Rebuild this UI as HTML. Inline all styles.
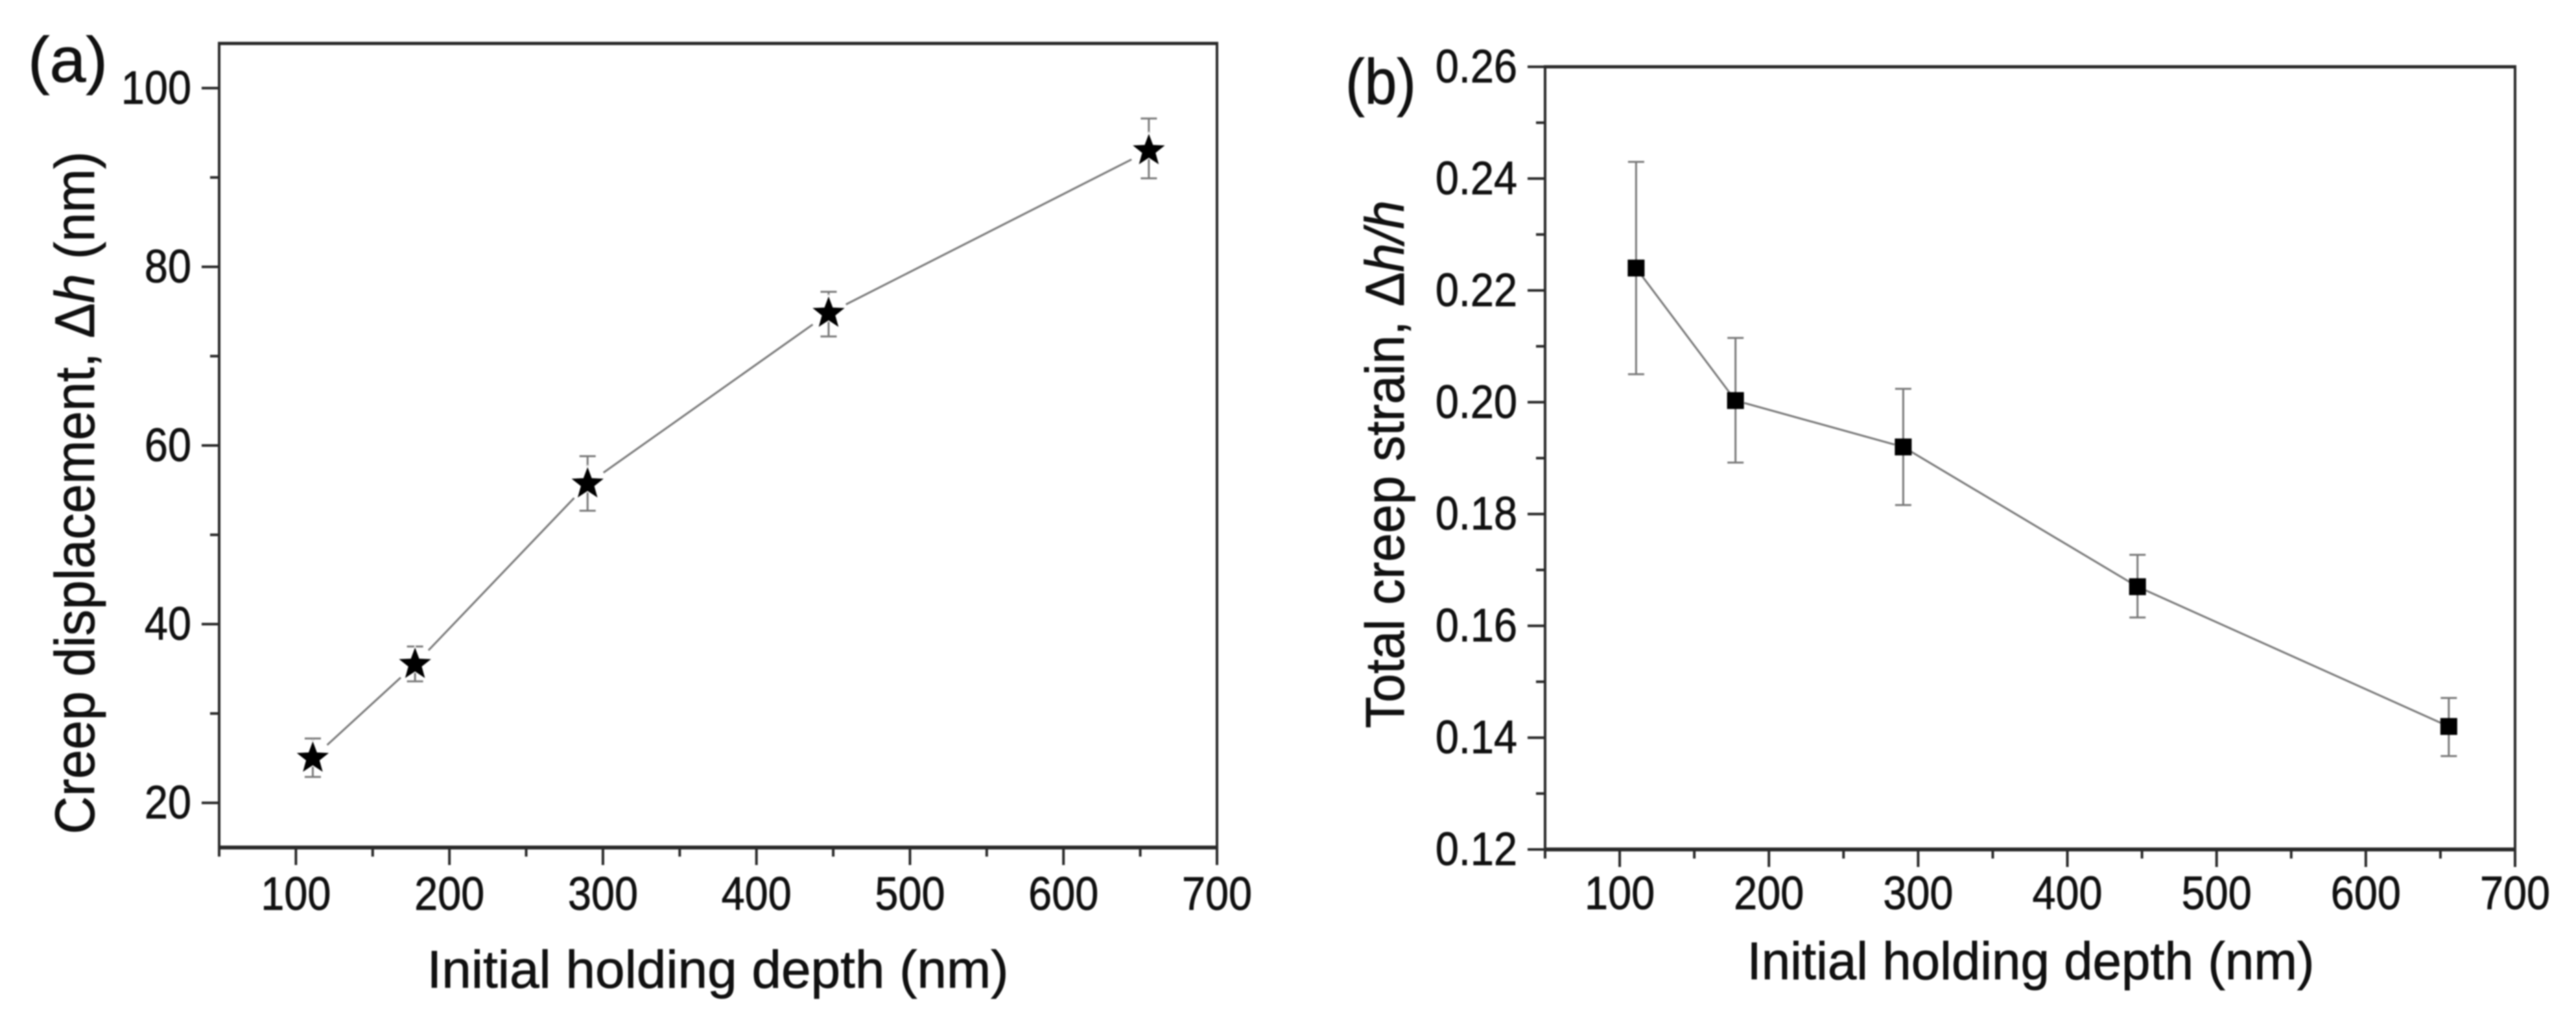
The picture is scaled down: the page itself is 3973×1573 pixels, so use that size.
<!DOCTYPE html>
<html lang="en">
<head>
<meta charset="utf-8">
<title>Creep displacement and strain vs. initial holding depth</title>
<style>
  html, body { margin: 0; padding: 0; background: #fff; }
  body { width: 3973px; height: 1573px; overflow: hidden; }
  svg { display: block; filter: blur(1px); }
  text { font-family: "Liberation Sans", sans-serif; fill: #111; stroke: #111; stroke-width: 0.8px; }
</style>
</head>
<body>
<svg id="figure" xmlns="http://www.w3.org/2000/svg" width="3973" height="1573" viewBox="0 0 3973 1573">
  <rect x="0" y="0" width="3973" height="1573" fill="#ffffff"/>

  <g id="panel-a">
    <text x="43" y="126" font-size="98" textLength="123" lengthAdjust="spacingAndGlyphs">(a)</text>
    <text transform="translate(145,760) rotate(-90)" text-anchor="middle" font-size="86" textLength="1053" lengthAdjust="spacingAndGlyphs">Creep displacement, Δ<tspan font-style="italic">h</tspan> (nm)</text>
    <text x="1107" y="1523" text-anchor="middle" font-size="82" textLength="897" lengthAdjust="spacingAndGlyphs">Initial holding depth (nm)</text>
  </g>

  <g id="panel-b">
    <text x="2075" y="160" font-size="98" textLength="109" lengthAdjust="spacingAndGlyphs">(b)</text>
    <text transform="translate(2165,716) rotate(-90)" text-anchor="middle" font-size="84" textLength="814" lengthAdjust="spacingAndGlyphs">Total creep strain, Δ<tspan font-style="italic">h/h</tspan></text>
    <text x="3132" y="1510" text-anchor="middle" font-size="82" textLength="875" lengthAdjust="spacingAndGlyphs">Initial holding depth (nm)</text>
  </g>
</svg>

<script>
// Shared x axis and sample depths
const holdingDepths = [111, 177.6, 290, 447, 655.6];
const xMajorTicks = [100, 200, 300, 400, 500, 600, 700];
const xMinorTicks = [50, 150, 250, 350, 450, 550, 650];
const xTickLabels = ['100', '200', '300', '400', '500', '600', '700'];

// Panel (a): creep displacement
const displacementValues = [25.0, 35.5, 55.7, 74.8, 93.0];
const displacementHigh = [27.2, 37.5, 58.8, 77.2, 96.6];
const displacementLow = [22.9, 33.6, 52.7, 72.2, 89.9];
const displacementMajorTicks = [20, 40, 60, 80, 100];
const displacementMinorTicks = [30, 50, 70, 90];
const displacementTickLabels = ['20', '40', '60', '80', '100'];

// Panel (b): total creep strain
const strainValues = [0.224, 0.2003, 0.192, 0.167, 0.142];
const strainHigh = [0.243, 0.2115, 0.2024, 0.1727, 0.1471];
const strainLow = [0.205, 0.1892, 0.1816, 0.1615, 0.1367];
const strainMajorTicks = [0.12, 0.14, 0.16, 0.18, 0.20, 0.22, 0.24, 0.26];
const strainMinorTicks = [0.13, 0.15, 0.17, 0.19, 0.21, 0.23, 0.25];
const strainTickLabels = ['0.12', '0.14', '0.16', '0.18', '0.20', '0.22', '0.24', '0.26'];

const SVG_NS = 'http://www.w3.org/2000/svg';
const AXIS_COLOR = '#2a2a2a';
const SERIES_COLOR = '#7a7a7a';

function make(parent, tag, attrs) {
  const node = document.createElementNS(SVG_NS, tag);
  Object.keys(attrs).forEach(function (key) { node.setAttribute(key, attrs[key]); });
  parent.appendChild(node);
  return node;
}

function starPath(cx, cy, outer) {
  const inner = outer * 0.42;
  let d = '';
  for (let i = 0; i < 10; i++) {
    const r = i % 2 === 0 ? outer : inner;
    const a = -Math.PI / 2 + i * Math.PI / 5;
    d += (i === 0 ? 'M' : 'L') + (cx + r * Math.cos(a)).toFixed(2) + ' ' + (cy + r * Math.sin(a)).toFixed(2);
  }
  return d + 'Z';
}

function drawPanel(cfg) {
  const root = document.getElementById(cfg.id);
  const xScale = function (v) { return cfg.left + (v - 50) / 650 * (cfg.right - cfg.left); };
  const yScale = function (v) { return cfg.bottom - (v - cfg.yMin) / (cfg.yMax - cfg.yMin) * (cfg.bottom - cfg.top); };

  // Frame
  const frameSides = [
    ['top', cfg.left - 2, cfg.top, cfg.right + 2, cfg.top, 5],
    ['right', cfg.right, cfg.top, cfg.right, cfg.bottom, 4],
    ['bottom', cfg.left - 2, cfg.bottom, cfg.right + 2, cfg.bottom, 6],
    ['left', cfg.left, cfg.top, cfg.left, cfg.bottom, 4]
  ];
  frameSides.forEach(function (s) {
    const el = make(root, 'line', { x1: s[1], y1: s[2], x2: s[3], y2: s[4], stroke: AXIS_COLOR, 'stroke-width': s[5] });
    
    
  });

  // X ticks
  xMajorTicks.forEach(function (v, i) {
    const x = xScale(v);
    const tick = make(root, 'line', { x1: x, y1: cfg.bottom, x2: x, y2: cfg.bottom + 27, stroke: AXIS_COLOR, 'stroke-width': 4 });
    
    
    const label = make(root, 'text', { transform: 'translate(' + x + ',' + cfg.xLabelY + ') scale(0.9,1)', 'text-anchor': 'middle', 'font-size': 72 });
    label.textContent = xTickLabels[i];
    
    
  });
  xMinorTicks.forEach(function (v) {
    const x = xScale(v);
    const tick = make(root, 'line', { x1: x, y1: cfg.bottom, x2: x, y2: cfg.bottom + 14, stroke: AXIS_COLOR, 'stroke-width': 4 });
    
    
  });

  // Y ticks
  cfg.yMajor.forEach(function (v, i) {
    const y = yScale(v);
    const tick = make(root, 'line', { x1: cfg.left - 27, y1: y, x2: cfg.left, y2: y, stroke: AXIS_COLOR, 'stroke-width': 4 });
    
    
    const label = make(root, 'text', { transform: 'translate(' + (cfg.left - 43) + ',' + (y + 24) + ') scale(0.9,1)', 'text-anchor': 'end', 'font-size': 72 });
    label.textContent = cfg.yLabels[i];
    
    
  });
  cfg.yMinor.forEach(function (v) {
    const y = yScale(v);
    const tick = make(root, 'line', { x1: cfg.left - 14, y1: y, x2: cfg.left, y2: y, stroke: AXIS_COLOR, 'stroke-width': 4 });
    
    
  });

  // Connecting line, shortened near each marker
  for (let i = 0; i < holdingDepths.length - 1; i++) {
    const x1 = xScale(holdingDepths[i]);
    const y1 = yScale(cfg.values[i]);
    const x2 = xScale(holdingDepths[i + 1]);
    const y2 = yScale(cfg.values[i + 1]);
    const len = Math.hypot(x2 - x1, y2 - y1);
    const ux = (x2 - x1) / len;
    const uy = (y2 - y1) / len;
    const seg = make(root, 'line', {
      x1: x1 + ux * cfg.gap, y1: y1 + uy * cfg.gap,
      x2: x2 - ux * cfg.gap, y2: y2 - uy * cfg.gap,
      stroke: SERIES_COLOR, 'stroke-width': 3
    });
    
    
  }

  // Error bars and markers
  holdingDepths.forEach(function (depth, i) {
    const x = xScale(depth);
    const yHigh = yScale(cfg.high[i]);
    const yLow = yScale(cfg.low[i]);
    const bar = make(root, 'line', { x1: x, y1: yHigh, x2: x, y2: yLow, stroke: SERIES_COLOR, 'stroke-width': 3 });
    
    
    const capTop = make(root, 'line', { x1: x - 12.5, y1: yHigh, x2: x + 12.5, y2: yHigh, stroke: SERIES_COLOR, 'stroke-width': 3 });
    
    
    const capBottom = make(root, 'line', { x1: x - 12.5, y1: yLow, x2: x + 12.5, y2: yLow, stroke: SERIES_COLOR, 'stroke-width': 3 });
    
    

    const y = yScale(cfg.values[i]);
    if (cfg.marker === 'star') {
      const star = make(root, 'path', { d: starPath(x, y, 26), fill: '#000000', stroke: '#ffffff', 'stroke-width': 3, 'paint-order': 'stroke' });
      
      
    } else {
      const square = make(root, 'rect', { x: x - 13, y: y - 13, width: 26, height: 26, fill: '#000000' });
      
      
    }
  });
}

drawPanel({
  id: 'panel-a', left: 338, right: 1877, top: 67, bottom: 1307, yMin: 15, yMax: 105,
  xLabelY: 1403, gap: 30, marker: 'star',
  values: displacementValues, high: displacementHigh, low: displacementLow,
  yMajor: displacementMajorTicks, yMinor: displacementMinorTicks, yLabels: displacementTickLabels
});

drawPanel({
  id: 'panel-b', left: 2383, right: 3879, top: 103, bottom: 1310, yMin: 0.12, yMax: 0.26,
  xLabelY: 1402, gap: 14, marker: 'square',
  values: strainValues, high: strainHigh, low: strainLow,
  yMajor: strainMajorTicks, yMinor: strainMinorTicks, yLabels: strainTickLabels
});
</script>
</body>
</html>
